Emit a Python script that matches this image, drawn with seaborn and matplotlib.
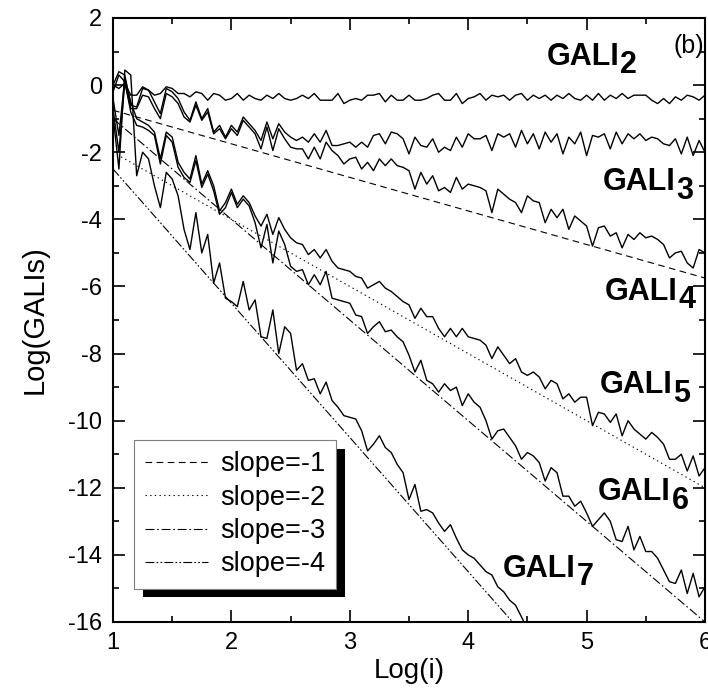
import numpy as np
import matplotlib
matplotlib.use('Agg')
import matplotlib.pyplot as plt
import seaborn as sns
from matplotlib.patches import Rectangle
from matplotlib.ticker import MultipleLocator

# ---------------- data ----------------
log_i = np.linspace(1.0, 6.0, 101)

gali2 = [0.00, -0.10, 0.05, -0.30, -0.30, -0.05, -0.15, -0.30, -0.25, -0.05,
         -0.10, -0.25, -0.25, -0.35, -0.20, -0.25, -0.45, -0.25, -0.30, -0.45,
         -0.40, -0.25, -0.45, -0.30, -0.40, -0.45, -0.30, -0.40, -0.25, -0.40,
         -0.45, -0.40, -0.30, -0.40, -0.25, -0.45, -0.45, -0.45, -0.25, -0.55,
         -0.45, -0.40, -0.45, -0.30, -0.30, -0.25, -0.50, -0.30, -0.45, -0.45,
         -0.30, -0.45, -0.45, -0.40, -0.30, -0.25, -0.45, -0.45, -0.25, -0.55,
         -0.40, -0.35, -0.25, -0.45, -0.30, -0.35, -0.30, -0.45, -0.30, -0.25,
         -0.45, -0.30, -0.40, -0.30, -0.45, -0.30, -0.40, -0.25, -0.40, -0.45,
         -0.30, -0.45, -0.25, -0.45, -0.30, -0.40, -0.25, -0.40, -0.30, -0.30,
         -0.30, -0.45, -0.55, -0.40, -0.55, -0.35, -0.45, -0.30, -0.35, -0.45,
         -0.30]

gali3 = [0.00, 0.40, 0.30, -0.60, -0.65, -0.10, -0.15, -0.50, -0.85, -0.10,
         -0.20, -0.40, -0.80, -1.05, -0.50, -1.00, -0.70, -1.40, -1.20, -1.55,
         -1.20, -1.40, -0.95, -1.15, -1.35, -1.65, -1.10, -1.60, -1.15, -1.40,
         -1.55, -1.65, -1.55, -1.70, -1.45, -1.70, -1.35, -1.80, -1.80, -1.75,
         -1.70, -1.85, -1.70, -1.85, -1.50, -1.45, -1.75, -1.40, -1.45, -1.60,
         -2.05, -1.55, -1.80, -1.85, -1.60, -2.00, -1.85, -1.95, -1.55, -1.85,
         -1.45, -1.60, -1.60, -1.50, -1.95, -1.45, -1.55, -1.45, -1.85, -1.35,
         -1.75, -1.45, -1.90, -1.40, -1.70, -1.45, -2.05, -1.55, -1.75, -1.40,
         -2.10, -1.50, -1.55, -1.45, -1.90, -1.40, -1.75, -1.45, -1.60, -1.45,
         -1.65, -1.55, -1.60, -1.75, -1.80, -1.60, -2.05, -1.55, -2.10, -1.65,
         -2.00]

gali4 = [-0.20, 0.30, 0.10, -0.70, -0.70, -0.30, -0.35, -0.70, -1.00, -0.25,
         -0.35, -0.55, -0.95, -1.10, -0.60, -1.05, -0.80, -1.45, -1.30, -1.60,
         -1.30, -1.50, -1.05, -1.25, -1.45, -1.90, -1.25, -1.95, -1.30, -1.60,
         -1.85, -1.90, -1.90, -2.20, -1.85, -2.20, -1.70, -1.95, -2.10, -2.35,
         -2.20, -2.15, -2.50, -2.30, -2.55, -2.20, -2.40, -2.20, -2.40, -2.45,
         -2.55, -3.10, -2.60, -2.95, -2.70, -3.15, -3.05, -3.20, -2.75, -3.10,
         -2.95, -3.00, -3.05, -3.15, -3.80, -3.10, -3.25, -3.40, -3.50, -3.80,
         -3.30, -3.45, -3.50, -4.10, -3.70, -3.95, -3.70, -4.30, -3.90, -4.05,
         -4.20, -4.80, -4.25, -4.20, -4.50, -4.40, -4.85, -4.45, -4.60, -4.40,
         -4.55, -4.50, -4.60, -4.75, -5.15, -5.00, -4.95, -5.30, -5.45, -4.90,
         -5.00]

gali5 = [-0.40, -1.50, 0.20, -0.50, -1.00, -1.10, -1.20, -1.40, -2.20, -1.40,
         -1.55, -2.30, -2.60, -2.80, -2.10, -2.95, -2.55, -3.00, -3.75, -3.50,
         -3.10, -3.55, -3.30, -3.50, -3.90, -4.20, -3.85, -4.45, -3.95, -4.30,
         -4.55, -4.70, -4.75, -5.05, -4.90, -5.15, -4.90, -5.25, -5.45, -5.50,
         -5.55, -5.70, -5.75, -6.05, -5.95, -5.85, -6.05, -6.15, -6.30, -6.45,
         -6.55, -6.95, -6.65, -6.90, -6.90, -7.25, -7.50, -7.25, -7.50, -7.25,
         -7.50, -7.55, -7.60, -7.75, -8.15, -7.80, -8.05, -8.30, -8.15, -8.55,
         -8.65, -8.55, -8.70, -9.05, -8.80, -8.90, -9.35, -9.20, -9.45, -9.30,
         -9.30, -10.15, -9.75, -9.80, -10.05, -9.80, -10.45, -10.00, -10.25, -10.40,
         -10.55, -10.35, -10.50, -10.70, -11.15, -11.15, -11.00, -11.50, -11.05, -11.65,
         -11.40]

gali6 = [-0.70, -2.00, 0.10, -0.80, -1.20, -1.25, -1.35, -1.50, -2.35, -1.50,
         -1.70, -2.45, -2.75, -2.90, -2.25, -3.05, -2.65, -3.15, -3.85, -3.65,
         -3.20, -3.65, -3.40, -3.60, -4.10, -4.85, -4.15, -5.30, -4.35, -4.75,
         -5.40, -5.55, -5.50, -5.95, -5.65, -5.95, -5.55, -6.35, -6.40, -6.45,
         -6.50, -6.85, -6.90, -7.40, -7.20, -7.05, -7.35, -7.30, -7.50, -7.65,
         -8.05, -8.55, -8.20, -8.80, -8.90, -9.15, -8.90, -9.10, -9.00, -9.55,
         -9.20, -9.45, -9.60, -10.00, -10.55, -10.30, -10.25, -10.50, -10.75, -11.15,
         -10.95, -11.05, -11.25, -11.80, -11.40, -11.55, -12.25, -12.25, -12.55, -12.40,
         -12.75, -13.15, -12.95, -12.75, -13.00, -13.55, -13.60, -13.15, -13.85, -13.45,
         -13.90, -13.90, -14.10, -14.45, -14.80, -14.85, -14.45, -15.15, -14.55, -15.25,
         -14.95]

# GALI7 only runs from Log(i)=1.00 to 4.50
gali7 = [-0.90, -2.50, 0.45, 0.30, -2.70, -2.00, -2.20, -3.00, -3.65, -2.60,
         -2.80, -3.30, -4.30, -4.90, -3.80, -5.00, -4.45, -5.90, -5.30, -6.35,
         -6.45, -6.60, -5.85, -6.70, -6.40, -7.50, -7.55, -6.70, -8.00, -7.20,
         -7.40, -8.50, -8.30, -8.80, -8.75, -9.20, -8.85, -9.40, -9.60, -9.85,
         -9.90, -9.95, -10.30, -10.90, -10.70, -10.45, -10.80, -10.95, -11.30, -11.55,
         -12.35, -11.90, -12.70, -12.65, -12.75, -13.05, -13.30, -13.10, -13.50, -13.85,
         -14.00, -14.10, -14.30, -14.50, -14.60, -14.95, -15.10, -15.35, -15.50, -15.85,
         -16.20]

for arr in (gali2, gali3, gali4, gali5, gali6):
    assert len(arr) == 101, len(arr)
assert len(gali7) == 71

ref_labels = ['slope=-1', 'slope=-2', 'slope=-3', 'slope=-4']
ref_x0 = [1.0, 1.0, 1.0, 1.0]
ref_x1 = [6.0, 6.0, 6.0, 4.375]
ref_y0 = [-0.75, -2.0, -1.0, -2.5]
ref_y1 = [-5.75, -12.0, -16.0, -16.0]

gali_subs = ['2', '3', '4', '5', '6', '7']
gali_lab_x = [4.666, 5.139, 5.155, 5.113, 5.096, 4.294]
gali_lab_y = [0.60, -3.13, -6.40, -9.18, -12.37, -14.66]

x_ticks = [1, 2, 3, 4, 5, 6]
x_tick_labels = ['1', '2', '3', '4', '5', '6']
y_ticks = [2, 0, -2, -4, -6, -8, -10, -12, -14, -16]
y_tick_labels = ['2', '0', '-2', '-4', '-6', '-8', '-10', '-12', '-14', '-16']

# ---------------- style ----------------
sns.set_style('ticks')
plt.rcParams['font.family'] = ['Liberation Sans', 'DejaVu Sans']
plt.rcParams['axes.unicode_minus'] = False
plt.rcParams['text.color'] = 'black'
plt.rcParams['axes.labelcolor'] = 'black'
plt.rcParams['xtick.color'] = 'black'
plt.rcParams['ytick.color'] = 'black'

fig = plt.figure(figsize=(7.08, 6.98), dpi=100)
ax = fig.add_axes([113 / 708, 76 / 698, 592 / 708, 604 / 698])

for vals in (gali2, gali3, gali4, gali5, gali6, gali7):
    sns.lineplot(x=log_i[:len(vals)], y=vals, color='black', linewidth=1.0,
                 ax=ax, legend=False, sort=False, estimator=None)

ref_styles = [(0, (6, 4)), (0, (1.2, 3)), (0, (8, 2.5, 1.5, 2.5)),
              (0, (8, 2, 1.5, 2, 1.5, 2))]
ref_handles = []
for x0, x1, y0, y1, lab, ls in zip(ref_x0, ref_x1, ref_y0, ref_y1, ref_labels, ref_styles):
    sns.lineplot(x=[x0, x1], y=[y0, y1], color='black', linewidth=0.8,
                 linestyle=ls, ax=ax, sort=False, estimator=None)
    ref_handles.append(ax.get_lines()[-1])

ax.set_xlim(1, 6)
ax.set_ylim(-16, 2)
ax.set_xticks(x_ticks)
ax.set_xticklabels(x_tick_labels)
ax.set_yticks(y_ticks)
ax.set_yticklabels(y_tick_labels)
ax.xaxis.set_minor_locator(MultipleLocator(0.5))
ax.yaxis.set_minor_locator(MultipleLocator(1))
ax.tick_params(which='both', direction='in', top=True, right=True,
               labelsize=17, width=1.2, color='black', labelcolor='black')
ax.tick_params(which='major', length=8.5)
ax.tick_params(which='minor', length=4.5)
ax.tick_params(axis='y', pad=8)
ax.tick_params(axis='x', pad=7)
for sp in ax.spines.values():
    sp.set_linewidth(1.5)
    sp.set_color('black')
    sp.set_visible(True)

ax.set_xlabel('Log(i)', fontsize=20, labelpad=3, color='black')
ax.set_ylabel('Log(GALIs)', fontsize=21, color='black')
ax.yaxis.set_label_coords(-0.108, 0.5)

# GALI labels with large subscripts
for x, y, sub in zip(gali_lab_x, gali_lab_y, gali_subs):
    t = ax.text(x, y, 'GALI', fontsize=22, fontweight='bold', ha='left',
                va='baseline', color='black')
    ax.annotate(sub, xy=(1, 0), xycoords=t, xytext=(0.5, -1.0), textcoords='offset points',
                fontsize=22, fontweight='bold', ha='left', va='baseline', color='black')

ax.text(5.73, 0.96, '(b)', fontsize=18, ha='left', va='baseline', color='black')

leg = ax.legend(ref_handles, ref_labels, loc='upper left',
                bbox_to_anchor=(21 / 592, (622 - 440) / 604), borderaxespad=0,
                frameon=True, fancybox=False, edgecolor='#7f7f7f', framealpha=1,
                fontsize=19.5, handlelength=2.3, handletextpad=0.45,
                labelspacing=0.27, borderpad=0.42)
leg.get_frame().set_linewidth(0.8)
for txt in leg.get_texts():
    txt.set_color('black')
leg.set_zorder(6)

fig.canvas.draw()
renderer = fig.canvas.get_renderer()
bb = leg.get_frame().get_window_extent(renderer)
inv = ax.transAxes.inverted()
(sx0, sy0), (sx1, sy1) = inv.transform([[bb.x0 + 9, bb.y0 - 8.5], [bb.x1 + 9, bb.y1 - 8.5]])
ax.add_patch(Rectangle((sx0, sy0), sx1 - sx0, sy1 - sy0, transform=ax.transAxes,
                       facecolor='black', edgecolor='none', zorder=5.5, clip_on=False))

fig.savefig('out.png', dpi=100)
